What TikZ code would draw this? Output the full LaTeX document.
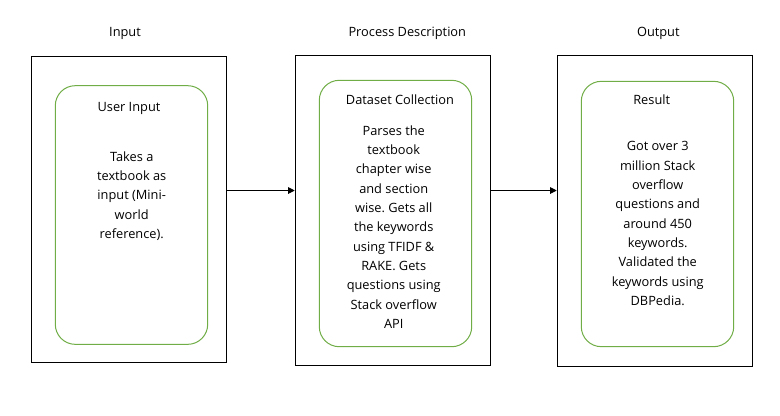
\documentclass[tikz,border=0pt]{standalone}
\usepackage{fontspec}
\setmainfont{Open Sans}
\usepackage{tikz}
\usetikzlibrary{arrows.meta}
\definecolor{greenline}{HTML}{70AD47}
\frenchspacing

\begin{document}
\begin{tikzpicture}[x=0.75pt,y=-0.75pt]
	\tikzstyle{stagebox} = [rectangle, draw=black, line width=0.9pt, inner sep=0pt, minimum width=146.5pt]
	\tikzstyle{roundbox} = [rectangle, rounded corners=15pt, draw=greenline, line width=0.75pt, inner sep=0pt, minimum width=114.3pt]
	\tikzstyle{stagetitle} = [font=\fontsize{9.6}{12}\selectfont, inner sep=0pt]
	\tikzstyle{bodytext} = [align=center, font=\fontsize{9.6}{14.5}\selectfont, inner sep=0pt]
	\tikzstyle{flow} = [-{Triangle[length=5pt,width=5pt]}, black, line width=0.75pt]
	\useasboundingbox (0,0) rectangle (780,415);
	
	%Input
	\node (inbox) at (129,209.5) [stagebox, minimum height=229.2pt]{};
	\node (intitle) at (125,33.5) [stagetitle]{Input};
	\node (inround) at (131.5,215) [roundbox, minimum height=194pt]{};
	\node (inhead) at (129,108.5) [stagetitle]{User Input};
	\node (intext) at (131.7,196) [bodytext]{Takes a\\textbook as\\input (Mini-\\world\\reference).};
	
	%Process Description
	\node (procbox) at (393,210.3) [stagebox, minimum height=232.5pt]{};
	\node (proctitle) at (407.3,33.5) [stagetitle]{Process Description};
	\node (procround) at (395.5,213.5) [roundbox, minimum height=199.8pt]{};
	\node (prochead) at (400,100) [stagetitle]{Dataset Collection};
	\node (proctext) at (393.7,226.8) [bodytext]{Parses the\\textbook\\chapter wise\\and section\\wise. Gets all\\the keywords\\using TFIDF \&\\RAKE. Gets\\questions using\\Stack overflow\\API};
	
	%Output
	\node (outbox) at (655,211) [stagebox, minimum height=233.5pt]{};
	\node (outtitle) at (658.3,33.5) [stagetitle]{Output};
	\node (outround) at (657.5,214) [roundbox, minimum height=199pt]{};
	\node (outhead) at (651.7,99.3) [stagetitle]{Result};
	\node (outtext) at (657.7,223.7) [bodytext]{Got over 3\\million Stack\\overflow\\questions and\\around 450\\keywords.\\Validated the\\keywords using\\DBPedia.};
	
	%Arrows
	\coordinate (flowy) at (0,190.5);
	\draw[flow] (inbox.east |- flowy) -- (procbox.west |- flowy);
	\draw[flow] (procbox.east |- flowy) -- (outbox.west |- flowy);
	
\end{tikzpicture}
\end{document}
